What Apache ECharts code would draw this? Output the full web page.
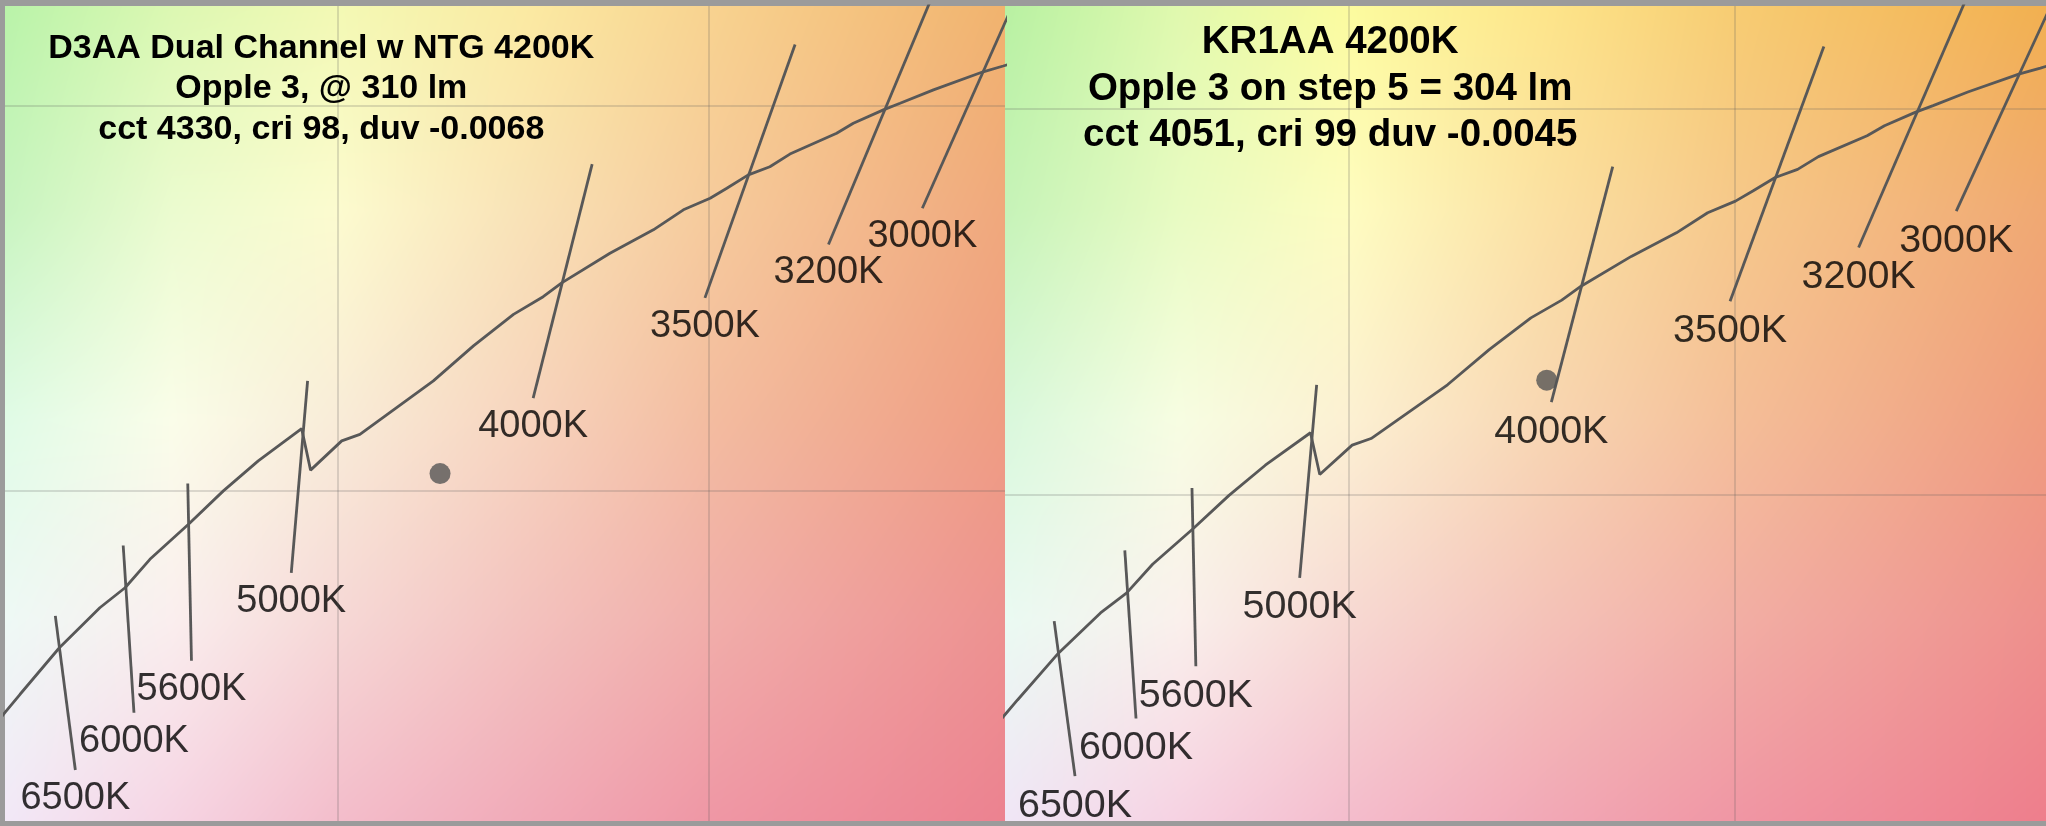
<!DOCTYPE html>
<html><head><meta charset="utf-8">
<script src="https://cdn.jsdelivr.net/npm/echarts@6/dist/echarts.min.js"></script>
<style>html,body{margin:0;padding:0;background:#9b9b9b;overflow:hidden}#c{width:2046px;height:826px}</style>
</head><body><div id="c"></div>
<script>
// ---- data (CIE-style u,v chart units) ----
const locusU = [0.2108,0.21102,0.21143,0.21249,0.21358,0.21426,0.21493,0.21597,0.21691,0.21785,0.21902,0.21926,0.22010,0.22059,0.22257,0.22365,0.22473,0.22553,0.22603,0.22733,0.22850,0.22931,0.23003,0.23048,0.23106,0.23164,0.23218,0.23344,0.23389,0.23470,0.23515,0.23605,0.23739,0.23793,0.2382];
const locusV = [0.32396,0.32422,0.32470,0.32591,0.32695,0.32747,0.32821,0.32912,0.32999,0.33077,0.33161,0.33053,0.33129,0.33146,0.33285,0.33376,0.33458,0.33504,0.33540,0.33617,0.33678,0.33730,0.33760,0.33786,0.33821,0.33842,0.33875,0.33929,0.33955,0.33990,0.34007,0.34042,0.34089,0.34104,0.34112];
const isoNames = ['6500K','6000K','5600K','5000K','4000K','3500K','3200K','3000K'];
const isoTopU = [0.21238,0.21421,0.21595,0.21918,0.22685,0.23232,0.23609,0.23861];
const isoTopV = [0.32674,0.32857,0.33018,0.33285,0.33849,0.34160,0.34302,0.34354];
const isoBotU = [0.21292,0.21450,0.21605,0.21874,0.22526,0.22989,0.23322,0.23575];
const isoBotV = [0.32273,0.32422,0.32557,0.32786,0.33240,0.33501,0.33640,0.33734];
const gridU = [0.22, 0.23];
const gridV = [0.34, 0.33];
const measuredLeft = [0.22275, 0.33044];
const measuredRight = [0.22514, 0.33297];
const titleLeft = ['D3AA Dual Channel w NTG 4200K', 'Opple 3, @ 310 lm', 'cct 4330, cri 98, duv -0.0068'];
const titleRight = ['KR1AA 4200K', 'Opple 3 on step 5 = 304 lm', 'cct 4051, cri 99 duv -0.0045'];

// ---- background colour field (style only) ----
const bgCols = [0, 0.167, 0.333, 0.52, 0.703, 1];
const bgRows = [0, 0.25, 0.508, 0.753, 1];
const bgLeft = [
 ['#b9f3a9','#dcf8b2','#f3f9b4','#fbeaa2','#f8d390','#f1b36e'],
 ['#c8f4c0','#ebfbcf','#fcfbcf','#f9e2b6','#f6cb9c','#f0a87c'],
 ['#e0fbe6','#fafde9','#f9ecd8','#f7d4be','#f3bca0','#ef9d82'],
 ['#eef9f5','#faeeee','#f6d8d6','#f3c2be','#f1aeaa','#ed9290'],
 ['#f2e8f7','#f6d4e3','#f3bdcb','#f1aab8','#ef97a5','#ec8290']];
const bgRight = [
 ['#b8f1a2','#e0f9ae','#fcfb9e','#fde58a','#f7cc72','#f2b050'],
 ['#c6f3b8','#e8fbc2','#fefcc0','#fbe0a2','#f6c88a','#f0a872'],
 ['#d9f8dc','#f7fde2','#fcf0d2','#f8d6b2','#f4be98','#ef9c7e'],
 ['#eafaf2','#faf0ec','#f7d8d2','#f4c2b8','#f2aea4','#ee908c'],
 ['#f0e6f6','#f6d2e2','#f4bccc','#f2a8b6','#f096a4','#ee7e8c']];

function hex(h){return [parseInt(h.substr(1,2),16),parseInt(h.substr(3,2),16),parseInt(h.substr(5,2),16)];}
function seg(arr,t){let i=0;while(i<arr.length-2&&t>arr[i+1])i++;const f=(t-arr[i])/(arr[i+1]-arr[i]);return [i,Math.max(0,Math.min(1,f))];}
function makeBg(w,h,colors){
  const cv=document.createElement('canvas');cv.width=w;cv.height=h;
  const ctx=cv.getContext('2d');const img=ctx.createImageData(w,h);
  const C=colors.map(r=>r.map(hex));
  for(let y=0;y<h;y++){
    const [ri,fy]=seg(bgRows,y/(h-1));
    for(let x=0;x<w;x++){
      const [ci,fx]=seg(bgCols,x/(w-1));
      const a=C[ri][ci],b=C[ri][ci+1],c=C[ri+1][ci],d=C[ri+1][ci+1];
      const k=(y*w+x)*4;
      for(let j=0;j<3;j++){
        const top=a[j]+(b[j]-a[j])*fx, bot=c[j]+(d[j]-c[j])*fx;
        img.data[k+j]=top+(bot-top)*fy;
      }
      img.data[k+3]=255;
    }
  }
  ctx.putImageData(img,0,0);return cv;
}

const panels = [
  {left:5, top:6, width:1000, height:815, xmin:0.211024, xmax:0.237978, ymin:0.321404, ymax:0.342601,
   bg:bgLeft, title:titleLeft, tx:321.3, ty:[49,89,129.9], tsize:34, lsize:38, dot:measuredLeft},
  {left:1005, top:6, width:1041, height:815, xmin:0.211106, xmax:0.238075, ymin:0.32157, ymax:0.342645,
   bg:bgRight, title:titleRight, tx:1330.2, ty:[42.2,88.9,135.2], tsize:38.5, lsize:39.5, dot:measuredRight}
];

const lineColor = '#585858';
const grid=[],xAxis=[],yAxis=[],series=[],graphic=[];
panels.forEach((p,pi)=>{
  grid.push({left:p.left, top:p.top, width:p.width, height:p.height});
  xAxis.push({gridIndex:pi, type:'value', min:p.xmin, max:p.xmax, show:false});
  yAxis.push({gridIndex:pi, type:'value', min:p.ymin, max:p.ymax, show:false});
  graphic.push({type:'image', z:0, silent:true, style:{image:makeBg(p.width,p.height,p.bg), x:p.left, y:p.top, width:p.width, height:p.height}});
  p.title.forEach((t,i)=>graphic.push({type:'text', z:100, silent:true,
    style:{text:t, x:p.tx, y:p.ty[i], fill:'#000', fontSize:p.tsize, fontWeight:'bold',
      fontFamily:'"Liberation Sans", Arial, Helvetica, sans-serif', align:'center', verticalAlign:'middle',
      textAlign:'center', textVerticalAlign:'middle'}}));
  series.push({type:'line', xAxisIndex:pi, yAxisIndex:pi, data:[], z:1, silent:true,
    markLine:{silent:true, symbol:['none','none'], animation:false, label:{show:false},
      lineStyle:{color:'rgba(90,90,90,0.2)', width:2, type:'solid'},
      data:gridU.map(u=>({xAxis:u})).concat(gridV.map(v=>({yAxis:v})))}});
  series.push({type:'line', xAxisIndex:pi, yAxisIndex:pi, z:3, showSymbol:false, silent:true, clip:true,
    data:locusU.map((u,i)=>[u,locusV[i]]), lineStyle:{color:lineColor, width:2.8}});
  isoNames.forEach((n,i)=>series.push({type:'line', xAxisIndex:pi, yAxisIndex:pi, z:3, showSymbol:false, silent:true, clip:true,
    data:[[isoBotU[i],isoBotV[i]],[isoTopU[i],isoTopV[i]]], lineStyle:{color:lineColor, width:2.8}}));
  series.push({type:'scatter', xAxisIndex:pi, yAxisIndex:pi, z:4, silent:true, symbolSize:1,
    itemStyle:{color:'rgba(0,0,0,0)'},
    data:isoNames.map((n,i)=>({name:n, value:[isoBotU[i],isoBotV[i]]})),
    label:{show:true, position:'bottom', distance:9, formatter:'{b}', color:'#000', fontSize:p.lsize,
      fontFamily:'"Liberation Sans", Arial, Helvetica, sans-serif'}});
  series.push({type:'scatter', xAxisIndex:pi, yAxisIndex:pi, z:5, silent:true, symbolSize:21,
    itemStyle:{color:'#555555'}, data:[p.dot]});
});

const chart = echarts.init(document.getElementById('c'), null, {renderer:'canvas'});
chart.setOption({animation:false, grid, xAxis, yAxis, series, graphic});
</script></body></html>
